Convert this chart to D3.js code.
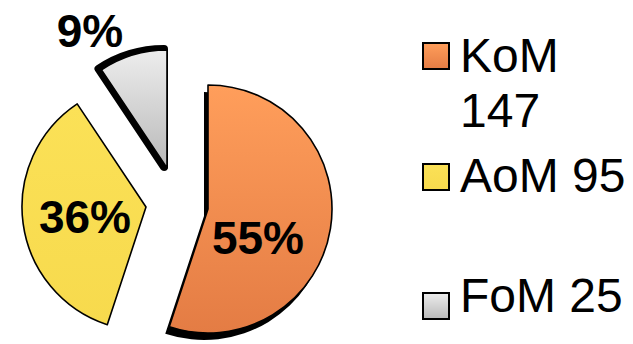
<!DOCTYPE html>
<html><head><meta charset="utf-8">
<script src="https://cdn.jsdelivr.net/npm/d3@7"></script>
<style>html,body{margin:0;padding:0;background:#fff;}svg{display:block;}</style>
</head><body>
<script>
// ---- data ----
const categories = ["KoM", "AoM", "FoM"];
const values = [147, 95, 25];
const legendLines = [["KoM", "147"], ["AoM 95"], ["FoM 25"]];

// ---- layout / style (not data) ----
const W = 633, H = 344;
const sliceLayout = [
  {cx: 208, cy: 209, r: 124, lx: 258, ly: 254},
  {cx: 146, cy: 207, r: 124, lx: 85,  ly: 233},
  {cx: 167, cy: 168, r: 118, lx: 90,  ly: 47}
];
const grads = [["#FF9E5B", "#E47C44"], ["#FBE157", "#F7DA4D"], ["#EDEDED", "#B9B9B9"]];
const legendBoxTop = [43, 164, 293];
const legendBaselines = [[72, 127], [192], [312]];

const svg = d3.select("body").append("svg").attr("width", W).attr("height", H);
const defs = svg.append("defs");
grads.forEach((g, i) => {
  const lg = defs.append("linearGradient").attr("id", "g" + i)
    .attr("x1", 0).attr("y1", 0).attr("x2", 0).attr("y2", 1);
  lg.append("stop").attr("offset", "0%").attr("stop-color", g[0]);
  lg.append("stop").attr("offset", "100%").attr("stop-color", g[1]);
});

const pie = d3.pie().sort(null).value(d => d)(values);
const total = d3.sum(values);
const pct = v => Math.round(v / total * 100) + "%";

pie.forEach((p, i) => {
  const L = sliceLayout[i];
  const arc = d3.arc().innerRadius(0).outerRadius(L.r);
  const g = svg.append("g").attr("transform", `translate(${L.cx},${L.cy})`);
  if (i === 0) {
    g.append("path").attr("d", arc(p)).attr("transform", "translate(-4,7)")
      .attr("fill", "#000");
  }
  if (i === 2) {
    g.append("path").attr("d", arc(p)).attr("transform", "translate(-3,-1)")
      .attr("fill", "#000").attr("stroke", "#000").attr("stroke-width", 8)
      .attr("stroke-linejoin", "round");
  }
  g.append("path").attr("d", arc(p)).attr("fill", `url(#g${i})`)
    .attr("stroke", "#000").attr("stroke-width", 1.6).attr("stroke-linejoin", "round");
});

// labels
pie.forEach((p, i) => {
  const L = sliceLayout[i];
  svg.append("text").attr("x", L.lx).attr("y", L.ly)
    .attr("text-anchor", "middle")
    .attr("font-family", "Liberation Sans, Arial, sans-serif")
    .attr("font-weight", "bold").attr("font-size", 46).attr("fill", "#000")
    .text(pct(p.value));
});

// legend
categories.forEach((c, i) => {
  svg.append("rect").attr("x", 423).attr("y", legendBoxTop[i])
    .attr("width", 26).attr("height", 26)
    .attr("fill", `url(#g${i})`).attr("stroke", "#000").attr("stroke-width", 2);
  legendLines[i].forEach((t, j) => {
    svg.append("text").attr("x", 460).attr("y", legendBaselines[i][j])
      .attr("font-family", "Liberation Sans, Arial, sans-serif")
      .attr("font-size", 48).attr("fill", "#000").text(t);
  });
});
</script>
</body></html>
